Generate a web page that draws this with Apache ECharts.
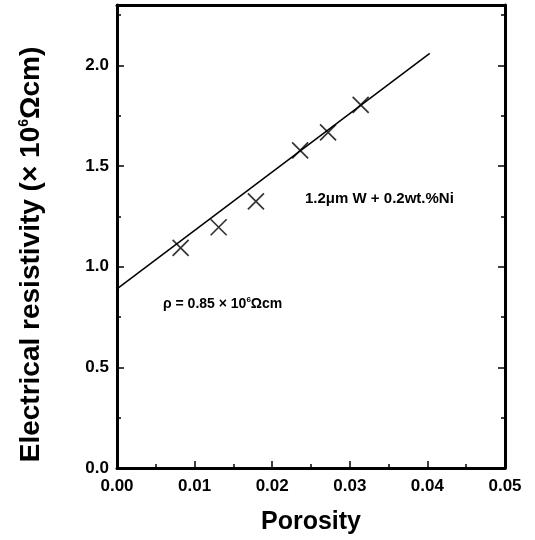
<!DOCTYPE html>
<html>
<head>
<meta charset="utf-8">
<script src="https://cdn.jsdelivr.net/npm/echarts@6/dist/echarts.min.js"></script>
<style>
  html, body { margin: 0; padding: 0; background: #fff; }
  #chart { width: 535px; height: 540px; }
</style>
</head>
<body>
<div id="chart"></div>
<script>
// measured points (porosity, resistivity)
const porosity = [0.0082, 0.0131, 0.0179, 0.0236, 0.0272, 0.0314];
const resistivity = [1.093, 1.196, 1.324, 1.578, 1.667, 1.804];
// linear fit end points
const fitX = [0.0, 0.0403];
const fitY = [0.89, 2.06];

const xTicks = [0, 0.01, 0.02, 0.03, 0.04, 0.05];
const yTicks = [0, 0.5, 1.0, 1.5, 2.0];

const FONT = '"Liberation Sans", Arial, sans-serif';

const chart = echarts.init(document.getElementById('chart'));

const tickStyle = { color: '#000', width: 1.5 };
const frame = { onZero: false, lineStyle: { color: '#000', width: 3 } };

chart.setOption({
  animation: false,
  grid: { left: 117, right: 30, top: 5, bottom: 68 },
  xAxis: [
    {
      type: 'value',
      min: xTicks[0],
      max: xTicks[xTicks.length - 1],
      interval: 0.01,
      name: 'Porosity',
      nameLocation: 'middle',
      nameGap: 42,
      nameTextStyle: { fontFamily: FONT, fontWeight: 'bold', fontSize: 25, color: '#000' },
      axisLine: frame,
      axisTick: { inside: true, length: 7, lineStyle: tickStyle },
      minorTick: { show: true, splitNumber: 2, length: 4, lineStyle: tickStyle },
      splitLine: { show: false },
      axisLabel: {
        fontFamily: FONT, fontWeight: 'bold', fontSize: 17, color: '#000', margin: 10,
        formatter: v => v.toFixed(2)
      }
    },
    {
      type: 'value', position: 'top',
      min: xTicks[0], max: xTicks[xTicks.length - 1], interval: 0.01,
      axisLine: { show: true, ...frame },
      axisTick: { show: false }, axisLabel: { show: false }, splitLine: { show: false }
    }
  ],
  yAxis: [
    {
      type: 'value',
      min: 0,
      max: 2.3,
      interval: 0.5,
      name: '{t|Electrical resistivity (× 10}{s|6}{t|\u03A9cm)}',
      nameLocation: 'middle',
      nameGap: 72,
      nameTextStyle: {
        fontFamily: FONT, fontWeight: 'bold', fontSize: 28, color: '#000',
        padding: [0, 36, 0, 0],
        rich: {
          t: { fontFamily: FONT, fontWeight: 'bold', fontSize: 28, color: '#000' },
          s: { fontFamily: FONT, fontWeight: 'bold', fontSize: 14, color: '#000', verticalAlign: 'top', padding: [0, 0, 13, 0] }
        }
      },
      axisLine: frame,
      axisTick: { inside: true, length: 7, lineStyle: tickStyle },
      minorTick: { show: true, splitNumber: 2, length: 4, lineStyle: tickStyle },
      splitLine: { show: false },
      axisLabel: {
        fontFamily: FONT, fontWeight: 'bold', fontSize: 17, color: '#000', margin: 8,
        formatter: v => (yTicks.indexOf(v) >= 0 ? v.toFixed(1) : '')
      }
    },
    {
      type: 'value', position: 'right',
      min: 0, max: 2.3, interval: 0.5,
      axisLine: { show: true, ...frame },
      axisTick: { inside: true, length: 7, lineStyle: tickStyle },
      minorTick: { show: true, splitNumber: 2, length: 4, lineStyle: tickStyle },
      axisLabel: { show: false }, splitLine: { show: false }
    }
  ],
  series: [
    {
      type: 'line',
      data: fitX.map((x, i) => [x, fitY[i]]),
      showSymbol: false,
      lineStyle: { color: '#000', width: 1.5 },
      z: 2
    },
    {
      type: 'scatter',
      data: porosity.map((x, i) => [x, resistivity[i]]),
      symbol: 'path://M0,0L10,10M10,0L0,10',
      symbolSize: 16,
      itemStyle: { color: 'none', borderColor: '#000', borderWidth: 1.7 },
      z: 3
    }
  ],
  graphic: [
    {
      type: 'text', left: 305, top: 191,
      style: { text: '1.2\u03BCm W + 0.2wt.%Ni', fontFamily: FONT, fontWeight: 'bold', fontSize: 15, fill: '#000' }
    },
    {
      type: 'text', left: 163, top: 296,
      style: {
        text: '{t|\u03C1 = 0.85 × 10}{s|6}{t|\u03A9cm}',
        rich: {
          t: { fontFamily: FONT, fontWeight: 'bold', fontSize: 14, fill: '#000' },
          s: { fontFamily: FONT, fontWeight: 'bold', fontSize: 8, fill: '#000', verticalAlign: 'top', padding: [0, 0, 8, 0] }
        }
      }
    }
  ]
});
</script>
</body>
</html>
